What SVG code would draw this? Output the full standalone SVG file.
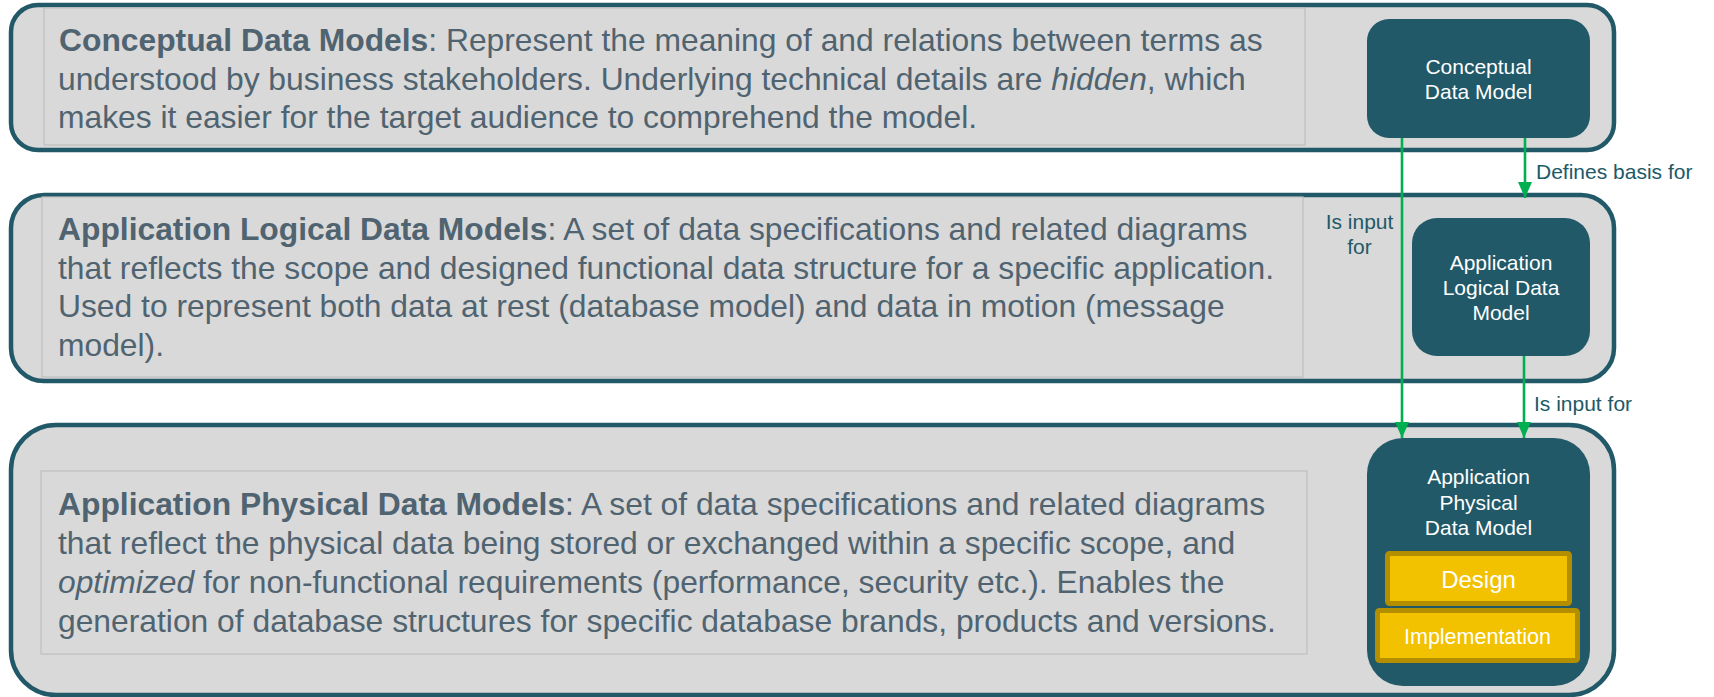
<svg xmlns="http://www.w3.org/2000/svg" width="1714" height="697" viewBox="0 0 1714 697">
  <style>
    .panel { fill: #d9d9d9; stroke: #215968; stroke-width: 4.5; }
    .textbox { fill: #d9d9d9; stroke: #bfbfbf; stroke-width: 1.2; }
    .desc { font-family: "Liberation Sans", Arial, sans-serif; font-size: 31.8px; fill: #506370; }
    .desc .b { font-weight: bold; }
    .desc .i { font-style: italic; }
    .node { fill: #215968; }
    .ntext { font-family: "Liberation Sans", Arial, sans-serif; font-size: 21px; fill: #ffffff; text-anchor: middle; }
    .layer { fill: #f2c100; stroke: #b38f00; stroke-width: 5; }
    .ltext { font-family: "Liberation Sans", Arial, sans-serif; fill: #ffffff; text-anchor: middle; }
    .edge { stroke: #00b050; stroke-width: 2.6; fill: none; }
    .elabel { font-family: "Liberation Sans", Arial, sans-serif; font-size: 21px; fill: #215968; }
  </style>
  <defs>
    <marker id="arrow" viewBox="0 0 16 14" refX="16" refY="7" markerWidth="16" markerHeight="14" markerUnits="userSpaceOnUse" orient="auto">
      <path d="M0,0 L16,7 L0,14 Z" fill="#00b050"/>
    </marker>
  </defs>

  <!-- Conceptual layer -->
  <g id="panel-conceptual">
    <rect class="panel" x="11" y="5" width="1603" height="145" rx="27" ry="27"/>
    <rect class="textbox" x="44" y="8" width="1261" height="137"/>
    <text class="desc">
      <tspan x="59" y="51"><tspan class="b">Conceptual Data Models</tspan>: Represent the meaning of and relations between terms as</tspan>
      <tspan x="58" y="89.5">understood by business stakeholders. Underlying technical details are <tspan class="i">hidden</tspan>, which</tspan>
      <tspan x="58" y="128">makes it easier for the target audience to comprehend the model.</tspan>
    </text>
  </g>

  <!-- Logical layer -->
  <g id="panel-logical">
    <rect class="panel" x="11" y="195" width="1603" height="186" rx="33" ry="33"/>
    <rect class="textbox" x="42" y="197" width="1261" height="180"/>
    <text class="desc">
      <tspan x="58" y="240"><tspan class="b">Application Logical Data Models</tspan>: A set of data specifications and related diagrams</tspan>
      <tspan x="58" y="278.5">that reflects the scope and designed functional data structure for a specific application.</tspan>
      <tspan x="58" y="317">Used to represent both data at rest (database model) and data in motion (message</tspan>
      <tspan x="58" y="355.5">model).</tspan>
    </text>
  </g>

  <!-- Physical layer -->
  <g id="panel-physical">
    <rect class="panel" x="11" y="425" width="1603" height="270" rx="45" ry="45"/>
    <rect class="textbox" x="41" y="471" width="1266" height="183"/>
    <text class="desc">
      <tspan x="58" y="515"><tspan class="b">Application Physical Data Models</tspan>: A set of data specifications and related diagrams</tspan>
      <tspan x="58" y="554">that reflect the physical data being stored or exchanged within a specific scope, and</tspan>
      <tspan x="58" y="593"><tspan class="i">optimized</tspan> for non-functional requirements (performance, security etc.). Enables the</tspan>
      <tspan x="58" y="632">generation of database structures for specific database brands, products and versions.</tspan>
    </text>
  </g>

  <!-- Model nodes -->
  <g id="node-conceptual">
    <rect class="node" x="1367" y="19" width="223" height="119" rx="22" ry="22"/>
    <text class="ntext"><tspan x="1478.5" y="74">Conceptual</tspan><tspan x="1478.5" y="99">Data Model</tspan></text>
  </g>

  <g id="node-logical">
    <rect class="node" x="1412" y="218" width="178" height="138" rx="25" ry="25"/>
    <text class="ntext"><tspan x="1501" y="270">Application</tspan><tspan x="1501" y="295">Logical Data</tspan><tspan x="1501" y="320">Model</tspan></text>
  </g>

  <g id="node-physical">
    <rect class="node" x="1367" y="438" width="223" height="248" rx="36" ry="36"/>
    <text class="ntext"><tspan x="1478.5" y="484">Application</tspan><tspan x="1478.5" y="509.5">Physical</tspan><tspan x="1478.5" y="535">Data Model</tspan></text>
    <g id="layer-design">
      <rect class="layer" x="1387.5" y="553.5" width="182" height="50" rx="2"/>
      <text class="ltext" x="1478.5" y="588" font-size="24">Design</text>
    </g>
    <g id="layer-implementation">
      <rect class="layer" x="1377.5" y="610.5" width="200" height="50" rx="2"/>
      <text class="ltext" x="1477.5" y="644" font-size="21.5">Implementation</text>
    </g>
  </g>

  <!-- Connectors -->
  <g id="connectors">
    <line class="edge" x1="1402" y1="138" x2="1402" y2="438" marker-end="url(#arrow)"/>
    <line class="edge" x1="1525" y1="138" x2="1525" y2="198" marker-end="url(#arrow)"/>
    <line class="edge" x1="1524" y1="356" x2="1524" y2="438" marker-end="url(#arrow)"/>
    <text class="elabel" x="1536" y="179">Defines basis for</text>
    <text class="elabel" text-anchor="middle"><tspan x="1359.5" y="229">Is input</tspan><tspan x="1359.5" y="254">for</tspan></text>
    <text class="elabel" x="1534" y="411">Is input for</text>
  </g>
</svg>
